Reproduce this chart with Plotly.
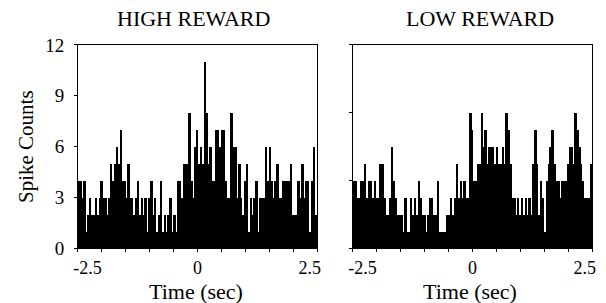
import numpy as np
import plotly.graph_objects as go

# ---- data ----
bin_width = 0.04          # seconds per bin
time_start = -2.5         # first bin edge (sec)

high_reward_counts = [
    4, 4, 3, 4, 1, 2, 3, 2, 2, 3, 2, 3, 4, 3, 3, 2, 3, 5, 4, 5,
    6, 5, 7, 4, 4, 3, 5, 3, 3, 2, 3, 4, 2, 3, 2, 3, 1, 3, 4, 2,
    3, 1, 2, 4, 1, 2, 1, 2, 3, 1, 2, 1, 4, 4, 3, 5, 5, 5, 8, 4,
    3, 6, 7, 5, 6, 5, 11, 8, 5, 6, 4, 4, 7, 7, 6, 7, 7, 4, 3, 3,
    8, 6, 6, 3, 5, 3, 2, 4, 5, 1, 3, 2, 3, 4, 1, 3, 3, 3, 6, 4,
    6, 4, 3, 4, 5, 3, 3, 4, 4, 4, 4, 5, 2, 2, 2, 4, 3, 5, 3, 4,
    4, 1, 4, 6, 2,
]

low_reward_counts = [
    4, 4, 3, 3, 4, 4, 5, 3, 4, 4, 3, 4, 3, 3, 5, 5, 3, 2, 2, 3,
    6, 4, 3, 2, 2, 2, 1, 3, 1, 1, 3, 2, 3, 2, 4, 3, 2, 2, 1, 2,
    3, 3, 2, 2, 4, 1, 1, 1, 1, 2, 2, 3, 2, 3, 5, 3, 4, 3, 4, 3,
    3, 8, 7, 4, 4, 5, 5, 8, 6, 7, 5, 6, 6, 6, 5, 6, 5, 5, 6, 5,
    8, 7, 5, 3, 3, 2, 3, 2, 3, 2, 3, 2, 3, 2, 5, 7, 5, 2, 4, 3,
    1, 4, 5, 6, 7, 5, 4, 4, 3, 4, 4, 4, 5, 6, 6, 5, 8, 7, 6, 5,
    4, 3, 3, 3, 5,
]

panel_titles = ["HIGH REWARD", "LOW REWARD"]
y_title = "Spike Counts"
x_title = "Time (sec)"

x_tick_marks = [-2.5, -2.0, -1.5, -1.0, -0.5, 0.0, 0.5, 1.0, 1.5, 2.0, 2.5]
x_tick_label_pos = [-2.3, 0.0, 2.35]
x_tick_labels = ["-2.5", "0", "2.5"]
y_tick_vals_left = [0, 3, 6, 9, 12]
y_tick_labels_left = ["0", "3", "6", "9", "12"]
y_tick_vals_right = [0, 4, 8, 12]

# ---- figure ----
def centers(n):
    return time_start + bin_width * (np.arange(n) + 0.5)

fig = go.Figure()
fig.add_trace(go.Bar(x=centers(len(high_reward_counts)), y=high_reward_counts,
                     width=bin_width, marker=dict(color="black", line=dict(width=0)),
                     xaxis="x", yaxis="y", showlegend=False))
fig.add_trace(go.Bar(x=centers(len(low_reward_counts)), y=low_reward_counts,
                     width=bin_width, marker=dict(color="black", line=dict(width=0)),
                     xaxis="x2", yaxis="y2", showlegend=False))

font_family = "Liberation Serif, Times New Roman, serif"
ydom = [0.180, 0.852]

xaxis_common = dict(
    range=[-2.5, 2.5], showgrid=False, zeroline=False, automargin=False,
    showline=True, linecolor="black", linewidth=1, mirror=True,
    tickmode="array", tickvals=x_tick_label_pos, ticktext=x_tick_labels,
    ticks="", ticklabelstandoff=3,
    minor=dict(tickmode="array", tickvals=x_tick_marks, ticks="outside",
               ticklen=3, tickcolor="black", tickwidth=1, showgrid=False),
    tickfont=dict(size=18, color="black", family=font_family),
    fixedrange=True,
)

fig.update_layout(
    width=606, height=303,
    margin=dict(l=0, r=0, t=0, b=0, autoexpand=False),
    paper_bgcolor="white", plot_bgcolor="white",
    bargap=0,
    font=dict(family=font_family, color="black"),
    xaxis=dict(domain=[0.1287, 0.5231], anchor="y", **xaxis_common),
    xaxis2=dict(domain=[0.5825, 0.9769], anchor="y2", **xaxis_common),
    yaxis=dict(domain=ydom, anchor="x", range=[0, 12], showgrid=False, zeroline=False,
               automargin=False,
               showline=True, linecolor="black", linewidth=1, mirror=True,
               tickmode="array", tickvals=y_tick_vals_left, ticktext=y_tick_labels_left,
               ticks="outside", ticklen=3, tickcolor="black",
               tickfont=dict(size=19, color="black", family=font_family),
               ticklabelstandoff=6, fixedrange=True),
    yaxis2=dict(domain=ydom, anchor="x2", range=[0, 12], showgrid=False, zeroline=False,
                automargin=False,
                showline=True, linecolor="black", linewidth=1, mirror=True,
                tickmode="array", tickvals=y_tick_vals_right, showticklabels=False,
                ticks="outside", ticklen=3, tickcolor="black", fixedrange=True),
)

annotations = [
    dict(text=panel_titles[0], x=193, y=19, size=22),
    dict(text=panel_titles[1], x=480, y=19, size=22),
    dict(text=x_title, x=196, y=291, size=22),
    dict(text=x_title, x=470, y=291, size=22),
]
for a in annotations:
    fig.add_annotation(text=a["text"], xref="paper", yref="paper",
                       x=a["x"] / 606, y=1 - a["y"] / 303,
                       xanchor="center", yanchor="middle", showarrow=False,
                       font=dict(size=a["size"], color="black", family=font_family))
fig.add_annotation(text=y_title, xref="paper", yref="paper",
                   x=26 / 606, y=1 - 147 / 303, textangle=-90,
                   xanchor="center", yanchor="middle", showarrow=False,
                   font=dict(size=21, color="black", family=font_family))

fig.write_html("out.html", config={"displayModeBar": False},
               post_script="document.body.style.margin='0';document.body.style.overflow='hidden';")
